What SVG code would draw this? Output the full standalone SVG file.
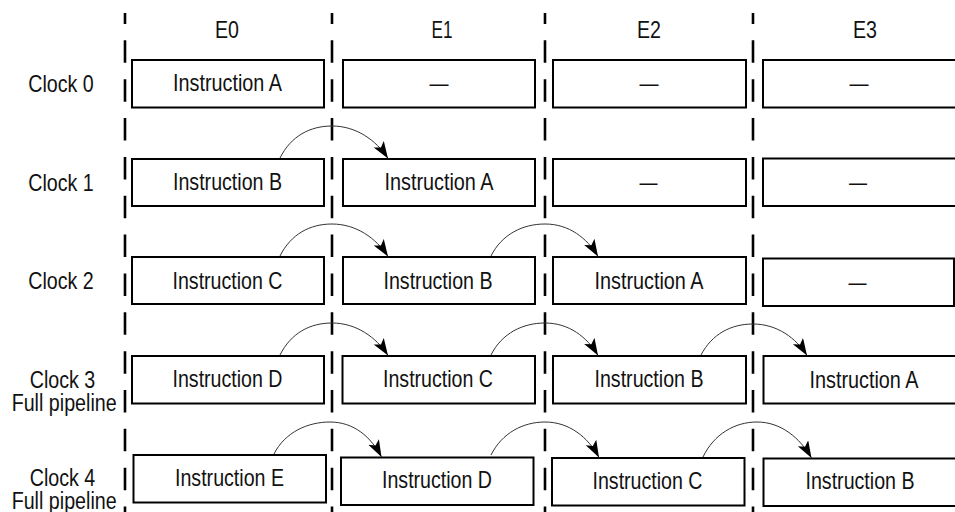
<svg xmlns="http://www.w3.org/2000/svg" width="955" height="512" viewBox="0 0 955 512">
<defs>
<style>
.t{font-family:"Liberation Sans Narrow","Arial Narrow","Liberation Sans",Arial,sans-serif;font-size:24px;fill:#111;text-anchor:middle}
.box{fill:#fff;stroke:#000;stroke-width:2}
.div{stroke:#000;stroke-width:2.6;stroke-dasharray:22.5 16.35;stroke-dashoffset:11.5}
.arc{fill:none;stroke:#333;stroke-width:1;marker-end:url(#ah)}
</style>
<marker id="ah" markerUnits="userSpaceOnUse" markerWidth="20" markerHeight="14" refX="17" refY="6" orient="auto">
<path d="M0,0 L17,6 L0,12 L4,6 Z" fill="#000"/>
</marker>
</defs>
<rect width="955" height="512" fill="#fff"/>
<g id="dividers">
<line class="div" x1="125" y1="13" x2="125" y2="512"/>
<line class="div" x1="332" y1="13" x2="332" y2="512"/>
<line class="div" x1="545" y1="13" x2="545" y2="512"/>
<line class="div" x1="753" y1="13" x2="753" y2="512"/>
</g>
<g id="headers">
<text class="t" x="227" y="38" textLength="24" lengthAdjust="spacingAndGlyphs">E0</text>
<text class="t" x="442" y="38" textLength="21" lengthAdjust="spacingAndGlyphs">E1</text>
<text class="t" x="649" y="38" textLength="24" lengthAdjust="spacingAndGlyphs">E2</text>
<text class="t" x="865" y="38" textLength="24" lengthAdjust="spacingAndGlyphs">E3</text>
</g>
<g id="row-labels">
<text class="t" x="61" y="92" textLength="65.5" lengthAdjust="spacingAndGlyphs">Clock 0</text>
<text class="t" x="61" y="191" textLength="65.5" lengthAdjust="spacingAndGlyphs">Clock 1</text>
<text class="t" x="61" y="289" textLength="65.5" lengthAdjust="spacingAndGlyphs">Clock 2</text>
<text class="t" transform="translate(62.5,388) scale(0.82,1)" x="0" y="0"><tspan x="0" y="0">Clock 3</tspan><tspan x="2" y="23">Full pipeline</tspan></text>
<text class="t" transform="translate(62.5,486) scale(0.82,1)" x="0" y="0"><tspan x="0" y="0">Clock 4</tspan><tspan x="2" y="23">Full pipeline</tspan></text>
</g>
<g id="row0">
<g id="r0e0"><rect class="box" x="132" y="60" width="192" height="47.5"/><text class="t" x="227.5" y="91" textLength="109" lengthAdjust="spacingAndGlyphs">Instruction A</text></g>
<g id="r0e1"><rect class="box" x="343" y="60" width="192" height="47.5"/><text class="t" x="439" y="91" textLength="19" lengthAdjust="spacingAndGlyphs">—</text></g>
<g id="r0e2"><rect class="box" x="553" y="60" width="193" height="47.5"/><text class="t" x="649" y="91" textLength="19" lengthAdjust="spacingAndGlyphs">—</text></g>
<g id="r0e3"><rect class="box" x="763" y="60" width="195" height="47.5"/><text class="t" x="859" y="91" textLength="19" lengthAdjust="spacingAndGlyphs">—</text></g>
</g>
<g id="row1">
<g id="r1e0"><rect class="box" x="132" y="159" width="192" height="47"/><text class="t" x="227.5" y="190" textLength="109" lengthAdjust="spacingAndGlyphs">Instruction B</text></g>
<g id="r1e1"><rect class="box" x="343" y="159" width="192" height="47"/><text class="t" x="439" y="190" textLength="109" lengthAdjust="spacingAndGlyphs">Instruction A</text></g>
<g id="r1e2"><rect class="box" x="553" y="159" width="193" height="47"/><text class="t" x="648.5" y="190" textLength="18" lengthAdjust="spacingAndGlyphs">—</text></g>
<g id="r1e3"><rect class="box" x="763" y="158.5" width="195" height="47.5"/><text class="t" x="858" y="190" textLength="18" lengthAdjust="spacingAndGlyphs">—</text></g>
</g>
<g id="row2">
<g id="r2e0"><rect class="box" x="132" y="257" width="192" height="47"/><text class="t" x="227.5" y="289" textLength="110" lengthAdjust="spacingAndGlyphs">Instruction C</text></g>
<g id="r2e1"><rect class="box" x="343" y="257" width="192" height="47"/><text class="t" x="438" y="289" textLength="109" lengthAdjust="spacingAndGlyphs">Instruction B</text></g>
<g id="r2e2"><rect class="box" x="553" y="257" width="193" height="47"/><text class="t" x="649" y="289" textLength="109" lengthAdjust="spacingAndGlyphs">Instruction A</text></g>
<g id="r2e3"><rect class="box" x="763" y="258.5" width="191" height="47.5"/><text class="t" x="857.5" y="290" textLength="18" lengthAdjust="spacingAndGlyphs">—</text></g>
</g>
<g id="row3">
<g id="r3e0"><rect class="box" x="132" y="356" width="192" height="47.5"/><text class="t" x="227.5" y="387" textLength="110" lengthAdjust="spacingAndGlyphs">Instruction D</text></g>
<g id="r3e1"><rect class="box" x="342.5" y="356" width="192.5" height="47.5"/><text class="t" x="438" y="387" textLength="110" lengthAdjust="spacingAndGlyphs">Instruction C</text></g>
<g id="r3e2"><rect class="box" x="553" y="356" width="193" height="47.5"/><text class="t" x="649" y="387" textLength="109" lengthAdjust="spacingAndGlyphs">Instruction B</text></g>
<g id="r3e3"><rect class="box" x="763.5" y="356" width="195" height="47.5"/><text class="t" x="864" y="388" textLength="109" lengthAdjust="spacingAndGlyphs">Instruction A</text></g>
</g>
<g id="row4">
<g id="r4e0"><rect class="box" x="133.5" y="455" width="192.5" height="47.5"/><text class="t" x="229.5" y="486" textLength="109" lengthAdjust="spacingAndGlyphs">Instruction E</text></g>
<g id="r4e1"><rect class="box" x="341" y="457.5" width="192.5" height="47.5"/><text class="t" x="437" y="487.5" textLength="110" lengthAdjust="spacingAndGlyphs">Instruction D</text></g>
<g id="r4e2"><rect class="box" x="552" y="458" width="192.5" height="47.5"/><text class="t" x="647.5" y="489" textLength="110" lengthAdjust="spacingAndGlyphs">Instruction C</text></g>
<g id="r4e3"><rect class="box" x="763.5" y="458.5" width="195" height="47.5"/><text class="t" x="860" y="489" textLength="109" lengthAdjust="spacingAndGlyphs">Instruction B</text></g>
</g>
<g id="connectors">
<path class="arc" d="M280,158 C291,136 310,126 332,126 C356,126 376,140 388,158.5"/>
<path class="arc" d="M280,256 C291,234 310,224 332,224 C356,224 376,238 388,256.5"/>
<path class="arc" d="M491,256 C502,234 523,224 545,224 C569,224 587,238 598,256.5"/>
<path class="arc" d="M280,355 C291,333 310,323 332,323 C356,323 376,337 388,355.5"/>
<path class="arc" d="M491,355 C502,333 523,323 545,323 C569,323 587,337 598,355.5"/>
<path class="arc" d="M701,355 C712,334 731,324 753,324 C777,324 796,338 807,355.5"/>
<path class="arc" d="M274,454 C285,432 308,422 330,422 C354,422 371,437 381.5,457"/>
<path class="arc" d="M491,455 C502,433 523,422 545,422 C569,422 588,437 599,457.5"/>
<path class="arc" d="M703,457 C714,434 735,422 757,422 C781,422 800,438 811.5,458"/>
</g>
</svg>
